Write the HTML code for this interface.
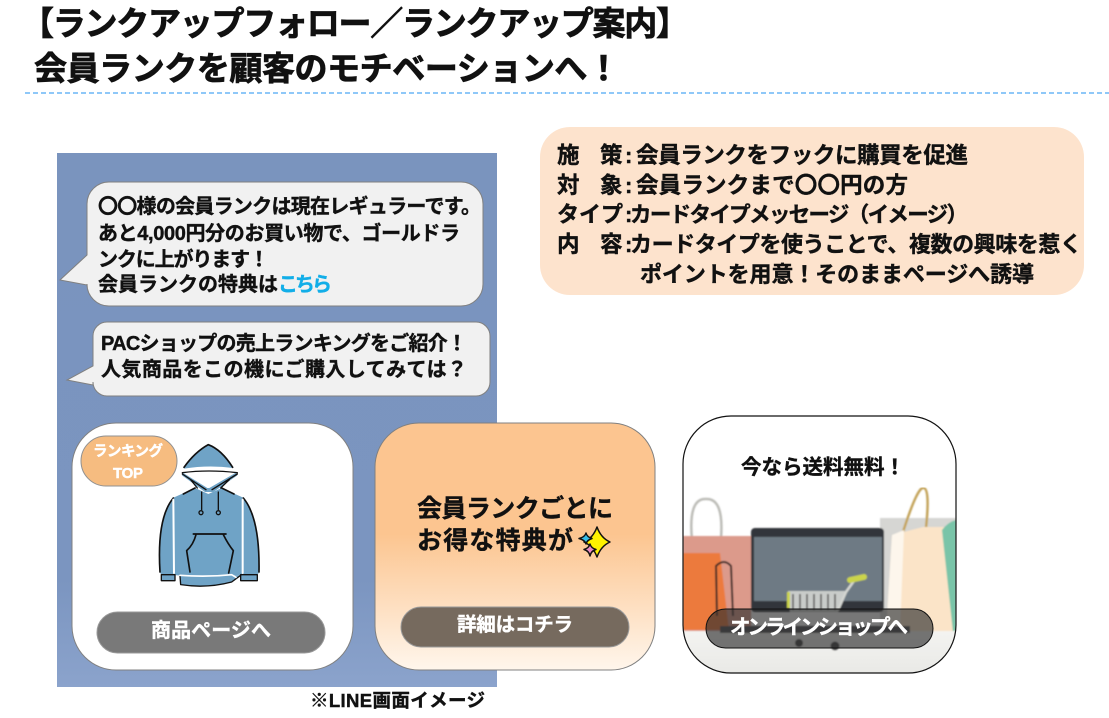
<!DOCTYPE html>
<html lang="ja"><head><meta charset="utf-8"><title>ランクアップ案内</title>
<style>
html,body{margin:0;padding:0;background:#fff}
svg{display:block}
text{font-family:"Liberation Sans","Noto Sans CJK JP",sans-serif;font-weight:700;fill:#111;stroke:#111;stroke-width:.4px}
.t{stroke-width:.8px}
.w{fill:#fff;stroke:#fff}
.b{fill:#12aee8;stroke:#12aee8}
</style></head><body>
<svg xmlns="http://www.w3.org/2000/svg" width="1109" height="718" viewBox="0 0 1109 718">
<defs>
<linearGradient id="bg" x1="0" y1="0" x2="0" y2="1"><stop offset="0" stop-color="#7a94be"/><stop offset=".8" stop-color="#7b95c0"/><stop offset="1" stop-color="#8ba3cc"/></linearGradient>
<linearGradient id="or" x1="0" y1="0" x2="0" y2="1"><stop offset="0" stop-color="#fcc590"/><stop offset=".45" stop-color="#fcc590"/><stop offset="1" stop-color="#fff6ec"/></linearGradient>
<linearGradient id="tb" x1="0" y1="0" x2="0" y2="1"><stop offset="0" stop-color="#f4f4f1"/><stop offset="1" stop-color="#e8e8e5"/></linearGradient>
<clipPath id="c3"><rect x="683" y="416" width="273" height="257" rx="48"/></clipPath>
<filter id="bl" x="0" y="0" width="1" height="1"><feGaussianBlur stdDeviation=".7"/></filter>
</defs>

<text class="t" x="21" y="35" font-size="33" textLength="668" lengthAdjust="spacing">【ランクアップフォロー／ランクアップ案内】</text>
<text class="t" x="34" y="80" font-size="33" textLength="586" lengthAdjust="spacing">会員ランクを顧客のモチベーションへ！</text>
<line x1="25" y1="93" x2="1109" y2="93" stroke="#8fc8f8" stroke-width="2" stroke-dasharray="5 3"/>

<rect x="57" y="153" width="440" height="534" fill="url(#bg)"/>

<path d="M109,182H461A22,22 0 0 1 483,204V284A22,22 0 0 1 461,306H109A22,22 0 0 1 87,284L87,285L60,280L87,255V204A22,22 0 0 1 109,182Z" fill="#f1f1f1" stroke="#808080"/>
<text x="98" y="213" font-size="20" textLength="383" lengthAdjust="spacing">〇〇様の会員ランクは現在レギュラーです。</text>
<text x="98" y="240" font-size="20" textLength="362" lengthAdjust="spacing">あと4,000円分のお買い物で、ゴールドラ</text>
<text x="98" y="266" font-size="20" textLength="171" lengthAdjust="spacing">ンクに上がります！</text>
<text x="98" y="291" font-size="20" textLength="180" lengthAdjust="spacing">会員ランクの特典は</text>
<text class="b" x="278" y="291" font-size="20" textLength="54" lengthAdjust="spacing">こちら</text>

<path d="M107,322H476A14,14 0 0 1 490,336V382A14,14 0 0 1 476,396H107A14,14 0 0 1 93,382V385L67,380L93,366V336A14,14 0 0 1 107,322Z" fill="#f1f1f1" stroke="#808080"/>
<text x="101" y="350" font-size="20" textLength="366" lengthAdjust="spacing">PACショップの売上ランキングをご紹介！</text>
<text x="101" y="376" font-size="20" textLength="366" lengthAdjust="spacing">人気商品をこの機にご購入してみては？</text>

<rect x="72" y="423" width="281" height="247" rx="44" fill="#fff" stroke="#808080"/>
<rect x="81" y="436" width="96" height="50" rx="25" fill="#f6bc80" stroke="#909090"/>
<text class="w" x="93" y="456" font-size="14.500" textLength="70" lengthAdjust="spacing">ランキング</text>
<text class="w" x="113" y="478" font-size="15" textLength="30" lengthAdjust="spacing">TOP</text>

<g transform="translate(150,438) scale(.3333)" stroke="#111" stroke-width="5" stroke-linejoin="round" stroke-linecap="round">
<path d="M68,180L135,150L175,168L215,150L282,180Q335,250 325,408L272,410L268,412L85,412L32,408Q18,250 68,180Z" fill="#6fa3c6" stroke="none"/>
<path d="M102,92Q130,42 175,20Q215,35 250,90Q175,80 102,92Z" fill="#6fa3c6" stroke="none"/>
<path d="M102,88Q135,42 175,20Q215,35 248,88" fill="none"/>
<path d="M98,94Q175,84 258,94L262,104Q175,96 96,104Z" fill="#fff" stroke="none"/>
<path d="M98,104L172,150L178,150L258,104L262,112L190,162L165,162L96,112Z" fill="#6fa3c6" stroke="none"/>
<path d="M97,104Q175,94 262,104M97,108L168,155M262,108L186,155M122,125L142,150M238,125L212,150" fill="none" stroke-width="4"/>
<path d="M155,162L155,215M205,162L205,215" fill="none" stroke-width="4"/>
<circle cx="153" cy="224" r="6" fill="#6fa3c6" stroke-width="4"/><circle cx="205" cy="224" r="6" fill="#6fa3c6" stroke-width="4"/>
<path d="M70,180Q20,240 30,402M280,180Q330,240 327,402M135,150L100,168M215,150L252,168" fill="none"/>
<path d="M70,185L72,405M278,185L278,405" fill="none" stroke="#fff" stroke-width="6"/>
<path d="M130,288H228M138,290Q130,320 110,338L120,402M220,290Q235,320 250,338L236,405" fill="none"/>
<path d="M34,410H75V428H34ZM272,410H322V428H272Z" fill="#6fa3c6" stroke-width="4"/>
<path d="M90,414L92,440Q170,452 245,432L272,412" fill="#6fa3c6" stroke-width="4"/>
<path d="M90,412Q170,418 245,410L258,418" fill="none" stroke="#fff" stroke-width="5"/>
</g>

<rect x="97" y="612" width="228" height="41" rx="20.500" fill="#797979" stroke="#999"/>
<text class="w" x="151" y="637" font-size="20" textLength="120" lengthAdjust="spacing">商品ページへ</text>

<rect x="375" y="423" width="280" height="247" rx="44" fill="url(#or)" stroke="#808080"/>
<text x="417" y="517" font-size="25" textLength="196" lengthAdjust="spacing">会員ランクごとに</text>
<text x="417" y="549" font-size="25" textLength="156" lengthAdjust="spacing">お得な特典が</text>
<g stroke="#111" stroke-width="1.500" stroke-linejoin="round">
<path d="M597,527Q601,538 610,542Q601,546 597,557Q593,546 584,542Q593,538 597,527Z" fill="#fff200"/>
<path d="M586,533Q587,537 592,538.500Q587,540 586,544Q585,540 579,538.500Q585,537 586,533Z" fill="#35bde8"/>
<path d="M590,544Q591,548 596,549.500Q591,551 590,556Q589,551 584,549.500Q589,548 590,544Z" fill="#ea8cc4"/>
</g>
<rect x="401" y="607" width="228" height="40" rx="20" fill="#766a5e" stroke="#999"/>
<text class="w" x="457" y="631" font-size="19.500" textLength="116" lengthAdjust="spacing">詳細はコチラ</text>

<g clip-path="url(#c3)">
<rect x="683" y="416" width="273" height="257" fill="#fff"/>
<g filter="url(#bl)">
<path d="M692,540Q688,498 706,499Q724,498 721,538" fill="none" stroke="#bdbdb8" stroke-width="2.500"/>
<rect x="683" y="536" width="68" height="96" fill="#dc9a8b"/>
<path d="M683,553L720,553L729,630H683Z" fill="#ec7a3e"/>
<path d="M717,616L716,566Q724,558 731,566L733,616" fill="none" stroke="#3c2c28" stroke-width="2"/>
<rect x="880" y="518" width="76" height="112" fill="#d6d6d3"/>
<path d="M903,532Q918,485 924,488Q930,490 926,528" fill="none" stroke="#c4a45c" stroke-width="2.500"/>
<path d="M892,535L923,527L944,527L956,632H886Z" fill="#fbe4c8"/>
<path d="M892,535L904,530L900,632H886Z" fill="#fdf6ec"/>
<path d="M942,530Q948,522 956,520V632H953Z" fill="#79c4a8"/>
<rect x="751" y="528" width="133" height="84" rx="4" fill="#33353a"/>
<rect x="754" y="537" width="128" height="64" fill="#6e7a84"/>
<path d="M788,591H846L838,612H790Z" fill="#c9ccca"/>
<path d="M793,594V610M800,594V610M807,594V610M814,594V610M821,594V610M828,594V610M835,594V610" stroke="#555" stroke-width="1.500"/>
<rect x="787" y="592" width="3" height="16" fill="#cbd44c"/>
<path d="M838,610L846,592L856,578" fill="none" stroke="#d4d6d2" stroke-width="2.500"/>
<path d="M850,580L864,577" stroke="#cbd44c" stroke-width="6" stroke-linecap="round"/>
<rect x="683" y="631" width="273" height="44" fill="url(#tb)"/>
<rect x="720" y="626" width="190" height="7" fill="#4e4f53"/>
<circle cx="799" cy="643" r="4" fill="#444"/><circle cx="835" cy="646" r="4.500" fill="#444"/>
</g>
<rect x="706" y="609" width="227" height="39" rx="19.500" fill="#2e2e2e" fill-opacity=".65" stroke="#111"/>
</g>
<rect x="683" y="416" width="273" height="257" rx="48" fill="none" stroke="#111" stroke-width="1.200"/>
<text x="741" y="474" font-size="20.500" textLength="164" lengthAdjust="spacing">今なら送料無料！</text>
<text class="w" x="730" y="634" font-size="20.500" textLength="178" lengthAdjust="spacing">オンラインショップへ</text>

<rect x="540" y="127" width="544" height="168" rx="30" fill="#fde3cd"/>
<text x="557" y="163" font-size="22.500">施</text><text x="600" y="163" font-size="22.500">策</text><text x="625" y="163" font-size="22">:</text>
<text x="636" y="163" font-size="22.500" textLength="332" lengthAdjust="spacing">会員ランクをフックに購買を促進</text>
<text x="557" y="193" font-size="22.500">対</text><text x="600" y="193" font-size="22.500">象</text><text x="625" y="193" font-size="22">:</text>
<text x="636" y="193" font-size="22.500" textLength="272" lengthAdjust="spacing">会員ランクまで〇〇円の方</text>
<text x="557" y="222" font-size="22" textLength="66" lengthAdjust="spacing">タイプ</text><text x="625" y="222" font-size="22">:</text>
<text x="630" y="222" font-size="21.500" textLength="338" lengthAdjust="spacing">カードタイプメッセージ（イメージ）</text>
<text x="557" y="252" font-size="22.500">内</text><text x="600" y="252" font-size="22.500">容</text><text x="625" y="252" font-size="22">:</text>
<text x="630" y="252" font-size="22" textLength="452" lengthAdjust="spacing">カードタイプを使うことで、複数の興味を惹く</text>
<text x="640" y="282" font-size="22" textLength="394" lengthAdjust="spacing">ポイントを用意！そのままページへ誘導</text>

<text x="310" y="707" font-size="18.500" textLength="175" lengthAdjust="spacing">※LINE画面イメージ</text>
</svg>
</body></html>
